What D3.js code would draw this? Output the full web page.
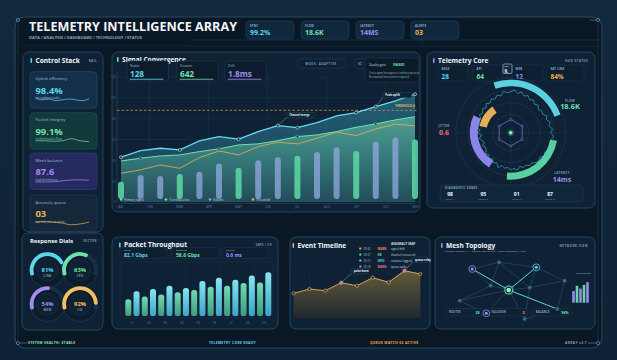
<!DOCTYPE html>
<html><head><meta charset="utf-8">
<script src="https://cdn.jsdelivr.net/npm/d3@7"></script>
<style>html,body{margin:0;padding:0;background:#0c1a2a;}svg{display:block;}</style>
</head><body><svg id="c" width="617" height="360"></svg>
<script>
// ---------------- DATA ----------------
const kpiLabels = ["SYNC", "FLOW", "LATENCY", "ALERTS"];
const kpiValues = ["99.2%", "18.6K", "14MS", "03"];

const controlLabels = ["Uplink efficiency", "Packet integrity", "Mesh balance", "Anomaly queue"];
const controlValues = ["98.4%", "99.1%", "87.6", "03"];
const controlNotes = ["throughput stable", "verified packet flow", "load distribution", "two low, one medium"];
const sparkUplink = [6, 4, 5, 3, 4, 5, 4, 3, 5];
const sparkIntegrity = [4, 4, 3.5, 4, 6.5, 4, 3];
const sparkBalance = [3, 3, 3.5, 5, 5.5, 5];
const sparkQueue = [5, 6, 5, 4, 2, 3, 5];

const dialLabels = ["LINK", "CPU", "MEM", "I/O"];
const dialValues = [81, 63, 54, 92];

const convStatLabels = ["Nodes", "Streams", "Drift"];
const convStatValues = ["128", "642", "1.8ms"];
const months = ["JAN", "FEB", "MAR", "APR", "MAY", "JUN", "JUL", "AUG", "SEP", "OCT", "NOV"];
const yTicks = [0, 20, 40, 60, 80, 100, 120];
const primarySignal = [43, 49.3, 51.6, 50, 58.7, 62.8, 60.3, 67.6, 73.4, 71.4, 76.3, 82.7, 85.9, 91.6, 97, 103.5];
const trendBaseline = [39.4, 42, 44.2, 45.2, 48.4, 51, 54.8, 55.8, 58.9, 62.8, 64.4, 67.6, 71.8, 75, 78.8, 81.9];
const thresholdSeries = [27.6, 30.8, 35.6, 32.4, 42.6, 49, 45.2, 53.2, 57.4, 55.8, 61.2, 67, 63.8, 70.2, 74.7, 73.1];
const volume = [19.5, 26, 25, 27, 29, 37, 33, 40, 43, 44.5, 48, 52.5, 49, 58, 62, 60];
const thresholdLevel = 88;
const legendNames = ["Primary signal", "Trend baseline", "Volume", "Threshold"];

const coreStatLabels = ["EDGE", "API", "WEB", "SAT LINK"];
const coreStatValues = ["28", "64", "12", "84%"];
// arc segments: [startDeg, endDeg]
const coreArcFlow = [-19, 70];
const coreArcLatency = [100, 185];
const coreArcJitter = [212, 295];
const coreArcLoad = [282, 325];
const radarValues = [41,43,40,42,39,41,38,40,37,39,36,38,37,40,38,41,39,42,40,43,41,44,40,42,
                     39,41,38,40,39,37,38,36,37,35,38,36,37,35,36,34,37,33,35,32,34,31,33,30,
                     29,31,28,30,32,29,33,31,34,32,35,33,36,34,37,35,38,36,39,37,40,38,42,40];
const zoneValues = ["98", "95", "91", "87"];
const zoneNames = ["Sector A", "Sector B", "Sector C", "Sector D"];

const tpStatLabels = ["PEAK", "MEDIAN", "JITTER"];
const tpStatValues = ["82.1 Gbps", "58.6 Gbps", "0.6 ms"];
const tpLabels = ["01", "02", "03", "04", "05", "06", "07", "08", "09"];
const tpGreen = [31, 36, 40, 44, 48, 54, 56, 61, 62];
const tpCyan = [46, 50, 56, 52, 65, 71, 67, 75, 81];

const eventTimes = ["09:42", "09:37", "09:12", "09:18"];
const eventTags = ["WARN", "OK", "INFO", "WARN"];
const eventTexts = ["signal drift", "channel recovered", "variance logged", "queue spike"];
const eventSeries = [41, 48.3, 45.5, 58.8, 53.8, 67.2, 59.5, 78.8, 73.3];
const eventHot = [3, 7];

const meshIds = ["A","B","C","D","E","F","G","H","I","J","K"];
const meshX = [15, 38.3, 70.7, 95.4, 31, 46.7, 65, 4.1, 89, 27.2, 60.6];
const meshY = [15, 3.8, 12.2, 34.5, 42.8, 50, 46, 67.8, 81.7, 88.8, 98.3];
const meshKinds = ["ring-p","dot","ring-c","dot","dot","core","dot","dot","dot","ring-p","dot"];
const meshStrong = [["A","F"],["F","C"],["F","I"]];
const meshWeak = [["A","B"],["B","C"],["A","E"],["B","E"],["B","G"],["C","D"],["C","G"],["D","G"],["D","I"],
                  ["H","E"],["H","F"],["H","J"],["F","J"],["F","K"],["G","K"],["E","F"],["F","G"],["I","K"]];
const meshStatLabels = ["ROUTES", "FAILOVER", "BALANCE"];
const meshStatValues = ["28", "2", "94%"];
const clusterSpread = [42, 61, 51, 64, 74];

const footerTexts = ["SYSTEM HEALTH: STABLE", "TELEMETRY CORE READY", "QUEUE WATCH 03 ACTIVE", "ARRAY v2.7"];

// ---------------- HELPERS ----------------
const F = "'Open Sans','Noto Sans',sans-serif";
const C = {cyan:"#5ad6ea", green:"#6fe0a8", purple:"#a48cf0", orange:"#f0b04a", red:"#f07070",
           dim:"#7f9ab0", text:"#d6e6f2", grid:"#1b364d"};
const svg = d3.select("#c");
const defs = svg.append("defs");

function T(g, x, y, s, o = {}) {
  const t = g.append("text").attr("x", x).attr("y", y).text(s)
    .attr("font-family", o.family || F).attr("font-size", o.size || 4)
    .attr("font-weight", o.weight || 400).attr("fill", o.fill || C.text)
    .attr("text-anchor", o.anchor || "start");
  if (o.ls) t.attr("letter-spacing", o.ls);
  if (o.tl) t.attr("textLength", o.tl).attr("lengthAdjust", "spacingAndGlyphs");
  if (o.op != null) t.attr("opacity", o.op);
  return t;
}
function R(g, x, y, w, h, o = {}) {
  return g.append("rect").attr("x", x).attr("y", y).attr("width", w).attr("height", h)
    .attr("rx", o.rx == null ? 3 : o.rx).attr("fill", o.fill || "none")
    .attr("stroke", o.stroke || "none").attr("stroke-width", o.sw || 0.6)
    .attr("opacity", o.op == null ? 1 : o.op);
}
function panel(x, y, w, h) {
  R(svg, x, y, w, h, {rx: 6, fill: "#0f2235", stroke: "#27506b", sw: 0.8});
}
function titleBar(x, y, color, title) {
  R(svg, x, y - 4.5, 1.6, 5, {rx: 0.8, fill: color});
  T(svg, x + 5, y, title, {size: 6.6, weight: 700, fill: "#f0f6fb"});
}
function lg(id, stops, x2 = 0, y2 = 1) {
  const g = defs.append("linearGradient").attr("id", id).attr("x1", 0).attr("y1", 0).attr("x2", x2).attr("y2", y2);
  stops.forEach(s => g.append("stop").attr("offset", s[0]).attr("stop-color", s[1]).attr("stop-opacity", s[2] == null ? 1 : s[2]));
}

// ---------------- BACKGROUND / FRAME ----------------
lg("bgG", [[0, "#11283d"], [1, "#0e2236"]]);
svg.append("rect").attr("width", 617).attr("height", 360).attr("fill", "url(#bgG)");
R(svg, 15, 17, 587, 331, {rx: 10, fill: "#0a1826", stroke: "#2c4e6a", sw: 0.9});
svg.append("line").attr("x1", 190).attr("x2", 600).attr("y1", 40).attr("y2", 40).attr("stroke", "#1c3a52").attr("stroke-width", 0.6);
svg.append("line").attr("x1", 20).attr("x2", 598).attr("y1", 46).attr("y2", 46).attr("stroke", "#16304a").attr("stroke-width", 0.6);
svg.append("line").attr("x1", 422).attr("x2", 422).attr("y1", 18).attr("y2", 46).attr("stroke", "#1c3a52").attr("stroke-width", 0.5);
[[18, 20], [598, 20], [18, 343], [598, 343]].forEach(p => {
  svg.append("circle").attr("cx", p[0]).attr("cy", p[1]).attr("r", 1.6).attr("fill", "none").attr("stroke", "#6fa9c8").attr("stroke-width", 0.6);
});
svg.append("line").attr("x1", 18).attr("x2", 18).attr("y1", 22).attr("y2", 341).attr("stroke", "#1f4058").attr("stroke-width", 0.5);
svg.append("line").attr("x1", 598).attr("x2", 598).attr("y1", 22).attr("y2", 341).attr("stroke", "#1f4058").attr("stroke-width", 0.5);
svg.append("line").attr("x1", 20).attr("x2", 27).attr("y1", 343).attr("y2", 343).attr("stroke", "#6fa9c8").attr("stroke-width", 0.5);
svg.append("line").attr("x1", 588).attr("x2", 596).attr("y1", 343).attr("y2", 343).attr("stroke", "#6fa9c8").attr("stroke-width", 0.5);
svg.append("line").attr("x1", 590).attr("x2", 596).attr("y1", 20).attr("y2", 20).attr("stroke", "#6fa9c8").attr("stroke-width", 0.5);

// ---------------- HEADER ----------------
T(svg, 29, 30.5, "TELEMETRY INTELLIGENCE ARRAY", {size: 12.5, weight: 700, fill: "#f2f7fb", tl: 208});
T(svg, 29, 38.5, "DATA / ANALYSIS / DASHBOARD / TECHNOLOGY / STATUS", {size: 3.6, weight: 700, fill: "#8aa6bd", tl: 113});
const kpiColors = [C.cyan, C.green, C.purple, C.orange];
const kpiX = d3.scalePoint().domain(kpiLabels).range([246, 411]);
kpiLabels.forEach((k, i) => {
  const x = kpiX(k);
  R(svg, x, 21, 48, 18, {rx: 4, fill: "#10283e", stroke: "#1f4560", sw: 0.6});
  T(svg, x + 4, 26.5, k, {size: 2.8, weight: 700, fill: "#8fb0c8", ls: 0.2});
  T(svg, x + 4, 34.5, kpiValues[i], {size: 7, weight: 700, fill: kpiColors[i]});
});

// ---------------- CONTROL STACK ----------------
panel(23, 52, 80, 180);
titleBar(30.5, 62.5, C.cyan, "Control Stack");
T(svg, 97, 62, "RAIL", {size: 3, weight: 700, fill: C.dim, anchor: "end", ls: 0.4});
const cardY = [71.7, 112.7, 153, 195];
const cardFill = ["#143049", "#123a3c", "#262a5e", "#14283a"];
const cardStroke = ["#24506a", "#1f5a50", "#3a3f80", "#24405a"];
const sparkSets = [sparkUplink, sparkIntegrity, sparkBalance, sparkQueue];
controlLabels.forEach((lab, i) => {
  const y = cardY[i];
  R(svg, 30, y, 67, 36.5, {rx: 4, fill: cardFill[i], stroke: cardStroke[i], sw: 0.6});
  T(svg, 35.5, y + 8.5, lab, {size: 4.2, fill: "#9fbcd2"});
  T(svg, 35.5, y + 22, controlValues[i], {size: 9.4, weight: 700, fill: kpiColors[i]});
  T(svg, 35.5, y + 27.5, controlNotes[i], {size: 2.9, fill: "#b8cbe0", op: 0.85});
  const data = sparkSets[i];
  const sx = d3.scaleLinear().domain([0, data.length - 1]).range([35.5, 89]);
  const sy = d3.scaleLinear().domain([0, 10]).range([y + 31.5, y + 23]);
  svg.append("path").datum(data).attr("fill", "none").attr("stroke", kpiColors[i]).attr("stroke-width", 0.7)
    .attr("d", d3.line().x((d, j) => sx(j)).y(d => sy(d)).curve(d3.curveMonotoneX));
});

// ---------------- RESPONSE DIALS ----------------
panel(22, 233, 81, 97);
T(svg, 30, 242.5, "Response Dials", {size: 5.8, weight: 700, fill: "#f0f6fb"});
T(svg, 97, 242, "SECTOR", {size: 3, weight: 700, fill: C.dim, anchor: "end", ls: 0.4});
const dialCx = [47.5, 80, 47.5, 80], dialCy = [270, 270, 304, 304];
const dialScale = d3.scaleLinear().domain([0, 100]).range([-110 * Math.PI / 180, 110 * Math.PI / 180]);
const dialColors = [C.cyan, C.green, C.purple, "#f4c060"];
dialValues.forEach((v, i) => {
  const g = svg.append("g").attr("transform", `translate(${dialCx[i]},${dialCy[i]})`);
  g.append("circle").attr("r", 17.5).attr("fill", "#0c1c2c").attr("stroke", "#1d3a52").attr("stroke-width", 0.8);
  g.append("path").attr("d", d3.arc().innerRadius(14).outerRadius(17.8).startAngle(dialScale(0)).endAngle(dialScale(100))())
    .attr("fill", "#16304a");
  g.append("path").attr("d", d3.arc().innerRadius(14).outerRadius(17.8).cornerRadius(1.8).startAngle(dialScale(0)).endAngle(dialScale(v))())
    .attr("fill", dialColors[i]);
  g.append("circle").attr("r", 11).attr("fill", "#0e2133").attr("stroke", "#1a364d").attr("stroke-width", 0.5);
  T(g, 0, 1.5, v + "%", {size: 5.8, weight: 700, fill: dialColors[i], anchor: "middle"});
  T(g, 0, 7, dialLabels[i], {size: 3, weight: 700, fill: C.dim, anchor: "middle", ls: 0.3});
});

// ---------------- SIGNAL CONVERGENCE ----------------
panel(112, 52, 308, 160);
titleBar(117, 61.5, C.green, "Signal Convergence");
const xData = d3.scaleLinear().domain([0, primarySignal.length - 1]).range([121, 415]);
const xMonth = d3.scalePoint().domain(months).range([120, 415]);
const yMain = d3.scaleLinear().domain([0, 120]).range([202, 77]);
const gMain = svg.append("g");
yTicks.forEach(t => {
  gMain.append("line").attr("x1", 117).attr("x2", 418).attr("y1", yMain(t)).attr("y2", yMain(t))
    .attr("stroke", C.grid).attr("stroke-width", 0.5);
});
["FEB", "APR", "JUN", "AUG", "OCT"].forEach(m => {
  gMain.append("line").attr("x1", xMonth(m)).attr("x2", xMonth(m)).attr("y1", 77).attr("y2", 202)
    .attr("stroke", C.grid).attr("stroke-width", 0.5);
});
gMain.append("line").attr("x1", 117).attr("x2", 117).attr("y1", 72).attr("y2", 202).attr("stroke", "#2a4a64").attr("stroke-width", 0.6);
const yAx = gMain.append("g").attr("transform", "translate(116,0)")
  .call(d3.axisLeft(yMain).tickValues(yTicks).tickSize(0).tickPadding(0.5));
yAx.select(".domain").remove();
yAx.selectAll("text").attr("font-size", 3).attr("fill", "#4f6f88").attr("font-family", F);
lg("cyanArea", [[0, "#3aa6c0", 0.45], [1, "#1b4a62", 0.55]]);
lg("greenArea", [[0, "#5fb8a0", 0.75], [0.5, "#3f8c84", 0.7], [1, "#2b5b62", 0.6]]);
gMain.append("path").datum(primarySignal).attr("fill", "url(#cyanArea)")
  .attr("d", d3.area().x((d, i) => xData(i)).y0(yMain(0)).y1(d => yMain(d)));
gMain.append("path").datum(trendBaseline).attr("fill", "url(#greenArea)")
  .attr("d", d3.area().x((d, i) => xData(i)).y0(yMain(0)).y1(d => yMain(d)));
gMain.append("line").attr("x1", 117).attr("x2", 418).attr("y1", yMain(thresholdLevel)).attr("y2", yMain(thresholdLevel))
  .attr("stroke", "#d9a24a").attr("stroke-width", 0.7).attr("stroke-dasharray", "2.5,2");
T(gMain, 415, yMain(thresholdLevel) - 3, "THRESHOLD @", {size: 2.8, weight: 700, fill: C.orange, anchor: "end"});
volume.forEach((v, i) => {
  const green = i % 3 === 0;
  gMain.append("rect").attr("x", xData(i) - 3).attr("width", 6)
    .attr("y", yMain(v)).attr("height", yMain(0) - 3 - yMain(v)).attr("rx", 3)
    .attr("fill", green ? "#5ad3a0" : "#8ea6dc").attr("opacity", green ? 0.9 : 0.78);
});
const lineGen = d3.line().x((d, i) => xData(i)).y(d => yMain(d));
gMain.append("path").datum(thresholdSeries).attr("fill", "none").attr("stroke", "#d8aa55").attr("stroke-width", 0.9).attr("d", lineGen);
gMain.append("path").datum(trendBaseline).attr("fill", "none").attr("stroke", "#6ee6a8").attr("stroke-width", 1).attr("d", lineGen);
gMain.append("path").datum(primarySignal).attr("fill", "none").attr("stroke", "#62dcef").attr("stroke-width", 1.3).attr("d", lineGen);
[0, 3, 6, 8, 9, 12, 13, 15].forEach(i => {
  gMain.append("circle").attr("cx", xData(i)).attr("cy", yMain(primarySignal[i])).attr("r", 1.5)
    .attr("fill", "#0e2436").attr("stroke", "#dff6fb").attr("stroke-width", 0.6);
});
[1, 5, 9, 13].forEach(i => {
  gMain.append("circle").attr("cx", xData(i)).attr("cy", yMain(trendBaseline[i])).attr("r", 1.3)
    .attr("fill", "#0e2436").attr("stroke", "#6ee6a8").attr("stroke-width", 0.6);
});
function callout(g, px, py, dx, dy, w, label) {
  g.append("line").attr("x1", px).attr("y1", py).attr("x2", px + dx).attr("y2", py + dy + 5)
    .attr("stroke", "#8fd8e8").attr("stroke-width", 0.4);
  R(g, px + dx, py + dy, w, 5.2, {rx: 1.2, fill: "#0d2233", stroke: "#2d5670", sw: 0.4});
  T(g, px + dx + 2.5, py + dy + 3.6, label, {size: 2.7, weight: 700, fill: "#e6f2f8"});
}
callout(gMain, xData(8), yMain(primarySignal[8]), 9, -13, 28, "Channel merge");
callout(gMain, xData(13), yMain(primarySignal[13]), 7, -14, 29, "Peak uplift");
const legColors = ["#62dcef", "#6ee6a8", "#8ea6dc", "#f0b04a"];
const legX = [121, 166, 210, 253];
legendNames.forEach((n, i) => {
  gMain.append("circle").attr("cx", legX[i]).attr("cy", 199.5).attr("r", 1.2).attr("fill", legColors[i]);
  T(gMain, legX[i] + 3, 200.7, n, {size: 3, fill: "#c8dbe8"});
});
const xAx = gMain.append("g").attr("transform", "translate(0,203)")
  .call(d3.axisBottom(xMonth).tickSize(0).tickPadding(2.5));
xAx.select(".domain").attr("stroke", "#2a4a64").attr("stroke-width", 0.5);
xAx.selectAll("text").attr("font-size", 3).attr("fill", "#5f7f98").attr("font-family", F);
const convColors = [C.cyan, C.green, C.purple];
const convX = [127, 177, 225];
convStatLabels.forEach((l, i) => {
  R(svg, convX[i], 61, 41.5, 20, {rx: 3, fill: "#0c1c2c", stroke: "#1f3d56", sw: 0.6});
  T(svg, convX[i] + 3, 66.8, l, {size: 3.2, fill: "#9fbcd2"});
  T(svg, convX[i] + 3, 76.5, convStatValues[i], {size: 8.2, weight: 700, fill: convColors[i]});
  R(svg, convX[i] + 2.5, 78.8, 34, 0.9, {rx: 0.4, fill: convColors[i], op: 0.8});
});
R(svg, 297, 59, 48, 9.3, {rx: 4.6, fill: "#0d2134", stroke: "#1f4560", sw: 0.5});
T(svg, 321, 65, "MODE: ADAPTIVE", {size: 2.9, weight: 700, fill: "#7f9ab0", anchor: "middle", ls: 0.5});
R(svg, 355, 58.5, 13, 10, {rx: 2, fill: "#0d2134", stroke: "#1f4560", sw: 0.5});
T(svg, 358, 65, "SC", {size: 3.2, weight: 700, fill: "#7f9ab0"});
R(svg, 365, 58, 54, 24, {rx: 3, fill: "#0c1b2a", stroke: "#223f57", sw: 0.5});
T(svg, 369, 66, "Quality gate", {size: 3.1, fill: "#c9dbe8"});
T(svg, 393, 66, "PASSED", {size: 3.1, weight: 700, fill: C.green});
T(svg, 369, 74, "Cross-signal divergence is within expected", {size: 2.6, fill: "#9fb6c8", tl: 50});
T(svg, 369, 78.3, "No manual intervention required.", {size: 2.6, fill: "#9fb6c8"});

// ---------------- TELEMETRY CORE ----------------
panel(427, 52, 168, 156);
titleBar(433, 62.5, C.purple, "Telemetry Core");
T(svg, 588, 62, "HUD STATUS", {size: 3, weight: 700, fill: C.dim, anchor: "end", ls: 0.4});
const coreColors = [C.cyan, C.green, C.purple, C.orange];
const coreBoxX = [438, 473, 512, 547], coreBoxW = [30, 29, 31, 37];
coreStatLabels.forEach((l, i) => {
  R(svg, coreBoxX[i], 65, coreBoxW[i], 16, {rx: 2.5, fill: "#0d1f30", stroke: "#1c3a52", sw: 0.5});
  T(svg, coreBoxX[i] + 3.5, 70, l, {size: 2.8, weight: 700, fill: "#8fb0c8", ls: 0.2});
  T(svg, coreBoxX[i] + 3.5, 78.5, coreStatValues[i], {size: 6.4, weight: 700, fill: coreColors[i]});
});
R(svg, 503, 64, 9, 9.5, {rx: 1.2, fill: "#0f2a3e", stroke: "#e8f2f8", sw: 0.5});
T(svg, 504.5, 67.3, "EPH", {size: 2.2, weight: 700, fill: "#cfe3f0"});
T(svg, 504.5, 72.5, "9.", {size: 4.4, weight: 700, fill: "#f4f8fb"});
const cx = 510.7, cy = 132.7;
const gc = svg.append("g").attr("transform", `translate(${cx},${cy})`);
[55, 43, 30, 18].forEach(r => gc.append("circle").attr("r", r).attr("fill", "none").attr("stroke", "#1d3a52").attr("stroke-width", 0.6));
gc.append("line").attr("x1", -55).attr("x2", 55).attr("stroke", "#1d3a52").attr("stroke-width", 0.5);
gc.append("line").attr("y1", -55).attr("y2", 55).attr("stroke", "#1d3a52").attr("stroke-width", 0.5);
const deg = d3.scaleLinear().domain([0, 360]).range([0, 2 * Math.PI]);
function coreArc(seg, ri, ro, color) {
  gc.append("path").attr("d", d3.arc().innerRadius(ri).outerRadius(ro).startAngle(deg(seg[0])).endAngle(deg(seg[1]))())
    .attr("fill", color);
}
coreArc(coreArcFlow, 46.5, 53, "#5ccfe0");
coreArc(coreArcLatency, 40, 47, "#58d0a0");
coreArc(coreArcJitter, 33, 41, "#8c84e8");
coreArc(coreArcLoad, 24.5, 32, "#e6ae5a");
const rScale = d3.scaleLinear().domain([0, 55]).range([0, 55]);
gc.append("path").datum(radarValues).attr("fill", "none").attr("stroke", "#4fc6d8").attr("stroke-width", 0.55)
  .attr("d", d3.lineRadial().angle((d, i) => deg(i * 360 / radarValues.length)).radius(d => rScale(d)).curve(d3.curveLinearClosed));
const hexPts = d3.range(6).map(i => [deg(i * 60), 13.3]);
gc.append("path").datum(hexPts).attr("fill", "none").attr("stroke", "#8c6fe0").attr("stroke-width", 0.7)
  .attr("d", d3.lineRadial().angle(d => d[0]).radius(d => d[1]).curve(d3.curveLinearClosed));
hexPts.forEach(p => {
  gc.append("circle").attr("cx", Math.sin(p[0]) * p[1]).attr("cy", -Math.cos(p[0]) * p[1]).attr("r", 1.2)
    .attr("fill", "#0f2235").attr("stroke", "#9a80f0").attr("stroke-width", 0.5);
});
gc.append("circle").attr("r", 3.2).attr("fill", "#6fe8b0").attr("opacity", 0.25);
gc.append("circle").attr("r", 1.8).attr("fill", "#7ff0b8");
T(svg, 570, 101.5, "FLOW", {size: 3, weight: 700, fill: C.dim, anchor: "middle", ls: 0.3});
T(svg, 570, 109, "18.6K", {size: 7.4, weight: 700, fill: C.green, anchor: "middle"});
T(svg, 444, 126.5, "JITTER", {size: 3, weight: 700, fill: C.dim, anchor: "middle", ls: 0.3});
T(svg, 444, 134.5, "0.6", {size: 7, weight: 700, fill: C.red, anchor: "middle"});
T(svg, 562, 174, "LATENCY", {size: 3, weight: 700, fill: C.dim, anchor: "middle", ls: 0.3});
T(svg, 562, 181.5, "14ms", {size: 7, weight: 700, fill: C.purple, anchor: "middle"});
R(svg, 440, 185, 143, 17, {rx: 4, fill: "#10263a", stroke: "#1f4058", sw: 0.5});
T(svg, 445, 189.3, "DIAGNOSTIC ZONES", {size: 2.7, weight: 700, fill: "#8fb0c8", ls: 0.4});
const zoneX = d3.scalePoint().domain(zoneNames).range([450, 550]);
zoneNames.forEach((z, i) => {
  T(svg, zoneX(z), 196.2, zoneValues[i], {size: 5, weight: 700, fill: "#eef5fa", anchor: "middle"});
  T(svg, zoneX(z), 200.4, z, {size: 2.4, fill: "#7f9ab0", anchor: "middle"});
});

// ---------------- PACKET THROUGHPUT ----------------
panel(112, 237, 166, 92);
titleBar(119, 247, C.cyan, "Packet Throughput");
T(svg, 272, 246, "GBPS / CH", {size: 2.6, weight: 700, fill: C.dim, anchor: "end", ls: 0.4});
const tpX = [120, 172, 222], tpW = [47, 47, 46], tpCol = [C.cyan, C.green, C.purple];
tpStatLabels.forEach((l, i) => {
  R(svg, tpX[i], 247.5, tpW[i], 11, {rx: 2, fill: "#0d1f30", stroke: "#1c3a52", sw: 0.5});
  T(svg, tpX[i] + 4, 250.8, l, {size: 2.4, weight: 700, fill: "#8fb0c8", ls: 0.2});
  T(svg, tpX[i] + 4, 256.8, tpStatValues[i], {size: 5, weight: 700, fill: tpCol[i]});
});
R(svg, 120, 262, 153, 56, {rx: 3, fill: "none", stroke: "#1a3449", sw: 0.5});
const tpAll = [];
tpGreen.forEach((g, i) => { tpAll.push({v: g, c: "g"}); tpAll.push({v: tpCyan[i], c: "c"}); });
const tpXs = d3.scaleLinear().domain([0, tpAll.length - 1]).range([128.3, 268.3]);
const tpY = d3.scaleLinear().domain([0, 100]).range([316, 262]);
lg("tpG", [[0, "#72dab0"], [1, "#3f9c80"]]);
lg("tpC", [[0, "#86e4f2"], [1, "#3aa6c4"]]);
[150, 185, 220, 255].forEach(x => svg.append("line").attr("x1", x).attr("x2", x).attr("y1", 263).attr("y2", 316)
  .attr("stroke", "#152d42").attr("stroke-width", 0.5));
tpAll.forEach((d, i) => {
  svg.append("rect").attr("x", tpXs(i) - 3).attr("width", 6).attr("y", tpY(d.v)).attr("height", tpY(0) - tpY(d.v))
    .attr("rx", 2.6).attr("fill", d.c === "g" ? "url(#tpG)" : "url(#tpC)");
});
tpLabels.forEach((l, k) => {
  T(svg, (tpXs(2 * k) + tpXs(2 * k + 1)) / 2, 324, l, {size: 2.8, fill: "#5f7f98", anchor: "middle"});
});

// ---------------- EVENT TIMELINE ----------------
panel(290, 237, 140, 92);
titleBar(292.5, 247.5, C.orange, "Event Timeline");
const evColors = [C.orange, C.green, C.cyan, "#f07aa0"];
const tagColors = ["#f08a5a", C.green, C.cyan, "#f07070"];
const evY = [249.6, 255.6, 261.6, 267.6];
T(svg, 391, 244.6, "ANOMALY MAP", {size: 3.2, weight: 700, fill: "#e0ecf4", op: 0.9});
eventTimes.forEach((t, i) => {
  R(svg, 359.3, evY[i] - 2, 2, 2, {rx: 0.4, fill: evColors[i]});
  T(svg, 363.5, evY[i], t, {size: 2.8, fill: "#9fbcd2"});
  T(svg, 377.5, evY[i], eventTags[i], {size: 2.8, weight: 700, fill: tagColors[i]});
  T(svg, 391, evY[i], eventTexts[i], {size: 2.8, fill: "#c9dbe8"});
});
const xE = d3.scaleLinear().domain([0, eventSeries.length - 1]).range([293.7, 420.3]);
const yE = d3.scaleLinear().domain([0, 100]).range([318, 258]);
eventSeries.forEach((v, i) => svg.append("line").attr("x1", xE(i)).attr("x2", xE(i)).attr("y1", 270).attr("y2", 318)
  .attr("stroke", "#172f44").attr("stroke-width", 0.5));
lg("evA", [[0, "#7a6a3e", 0.8], [1, "#2a2c2c", 0.7]]);
svg.append("path").datum(eventSeries).attr("fill", "url(#evA)")
  .attr("d", d3.area().x((d, i) => xE(i)).y0(yE(0)).y1(d => yE(d)));
svg.append("path").datum(eventSeries).attr("fill", "none").attr("stroke", "#e6b055").attr("stroke-width", 0.9)
  .attr("d", d3.line().x((d, i) => xE(i)).y(d => yE(d)));
eventSeries.forEach((v, i) => {
  const hot = eventHot.includes(i);
  svg.append("circle").attr("cx", xE(i)).attr("cy", yE(v)).attr("r", 1.6)
    .attr("fill", hot ? "#e06a7a" : "#2a2a26").attr("stroke", hot ? "#f0a0a8" : "#f0c070").attr("stroke-width", 0.6);
});
callout(svg, xE(3), yE(eventSeries[3]), 10, -14, 16, "pulse burst");
callout(svg, xE(7), yE(eventSeries[7]), 8, -13.5, 16, "queue relay");

// ---------------- MESH TOPOLOGY ----------------
panel(435, 237, 160, 92);
titleBar(441, 247.5, C.purple, "Mesh Topology");
T(svg, 445, 252, "Linked nodes 11 / active routes 09 / core variance 1.8%", {size: 2.4, fill: "#9fb6c8", tl: 81});
T(svg, 588, 247, "NETWORK VIEW", {size: 2.9, weight: 700, fill: C.dim, anchor: "end", ls: 0.5});
const mx = d3.scaleLinear().domain([0, 100]).range([455, 570]);
const my = d3.scaleLinear().domain([0, 100]).range([260, 320]);
const nodeIdx = id => meshIds.indexOf(id);
meshWeak.forEach(e => {
  const a = nodeIdx(e[0]), b = nodeIdx(e[1]);
  svg.append("line").attr("x1", mx(meshX[a])).attr("y1", my(meshY[a])).attr("x2", mx(meshX[b])).attr("y2", my(meshY[b]))
    .attr("stroke", "#2f5a78").attr("stroke-width", 0.5);
});
meshStrong.forEach(e => {
  const a = nodeIdx(e[0]), b = nodeIdx(e[1]);
  svg.append("line").attr("x1", mx(meshX[a])).attr("y1", my(meshY[a])).attr("x2", mx(meshX[b])).attr("y2", my(meshY[b]))
    .attr("stroke", "#5ad6da").attr("stroke-width", 1);
});
const pillX = [445, 487.5, 532], pillW = [38, 40.5, 40], pillCol = [C.cyan, C.orange, C.green];
meshStatLabels.forEach((l, i) => {
  R(svg, pillX[i], 308.5, pillW[i], 7.5, {rx: 3.7, fill: "#0e2234", stroke: "#1c3a52", sw: 0.5});
  T(svg, pillX[i] + 4, 313.3, l, {size: 2.5, weight: 700, fill: "#8fb0c8", ls: 0.3});
  T(svg, pillX[i] + pillW[i] - 3.5, 313.6, meshStatValues[i], {size: 3.6, weight: 700, fill: pillCol[i], anchor: "end"});
});
meshIds.forEach((id, i) => {
  const x = mx(meshX[i]), y = my(meshY[i]), k = meshKinds[i];
  if (k === "core") {
    svg.append("circle").attr("cx", x).attr("cy", y).attr("r", 5.2).attr("fill", "#6fe8b0").attr("opacity", 0.18);
    svg.append("circle").attr("cx", x).attr("cy", y).attr("r", 4).attr("fill", "#0f2235").attr("stroke", "#7ff0c0").attr("stroke-width", 0.8);
    svg.append("circle").attr("cx", x).attr("cy", y).attr("r", 2.3).attr("fill", "#8ff5c8");
  } else if (k === "ring-p" || k === "ring-c") {
    const col = k === "ring-p" ? "#a08cf0" : "#5ad6ea";
    svg.append("circle").attr("cx", x).attr("cy", y).attr("r", 3.4).attr("fill", "#0f2235").attr("stroke", col).attr("stroke-width", 0.8);
    svg.append("circle").attr("cx", x).attr("cy", y).attr("r", 1.5).attr("fill", col);
  } else {
    svg.append("circle").attr("cx", x).attr("cy", y).attr("r", 1.5).attr("fill", "#10273a").attr("stroke", "#5aa8c8").attr("stroke-width", 0.5);
    svg.append("circle").attr("cx", x).attr("cy", y).attr("r", 0.6).attr("fill", "#8fd0e8");
  }
});
T(svg, 583, 274, "cluster spread", {size: 2.3, fill: "#9fb6c8", anchor: "middle"});
const csX = d3.scaleLinear().domain([0, clusterSpread.length - 1]).range([573.5, 587.5]);
const csY = d3.scaleLinear().domain([0, 100]).range([302.7, 275]);
const csCol = ["#9a88ee", "#62d8a0", "#9a88ee", "#62d8a0", "#9a88ee"];
clusterSpread.forEach((v, i) => {
  svg.append("rect").attr("x", csX(i) - 1.3).attr("width", 2.6).attr("y", csY(v)).attr("height", csY(0) - csY(v))
    .attr("fill", csCol[i]);
});

// ---------------- FOOTER ----------------
const footCol = ["#8fe0b8", C.cyan, C.orange, "#7f9ab0"];
const footX = [28, 209, 370, 587];
footerTexts.forEach((t, i) => {
  T(svg, footX[i], 344.3, t, {size: 3.4, weight: 700, fill: footCol[i], anchor: i === 3 ? "end" : "start", ls: 0.3});
});
</script></body></html>
